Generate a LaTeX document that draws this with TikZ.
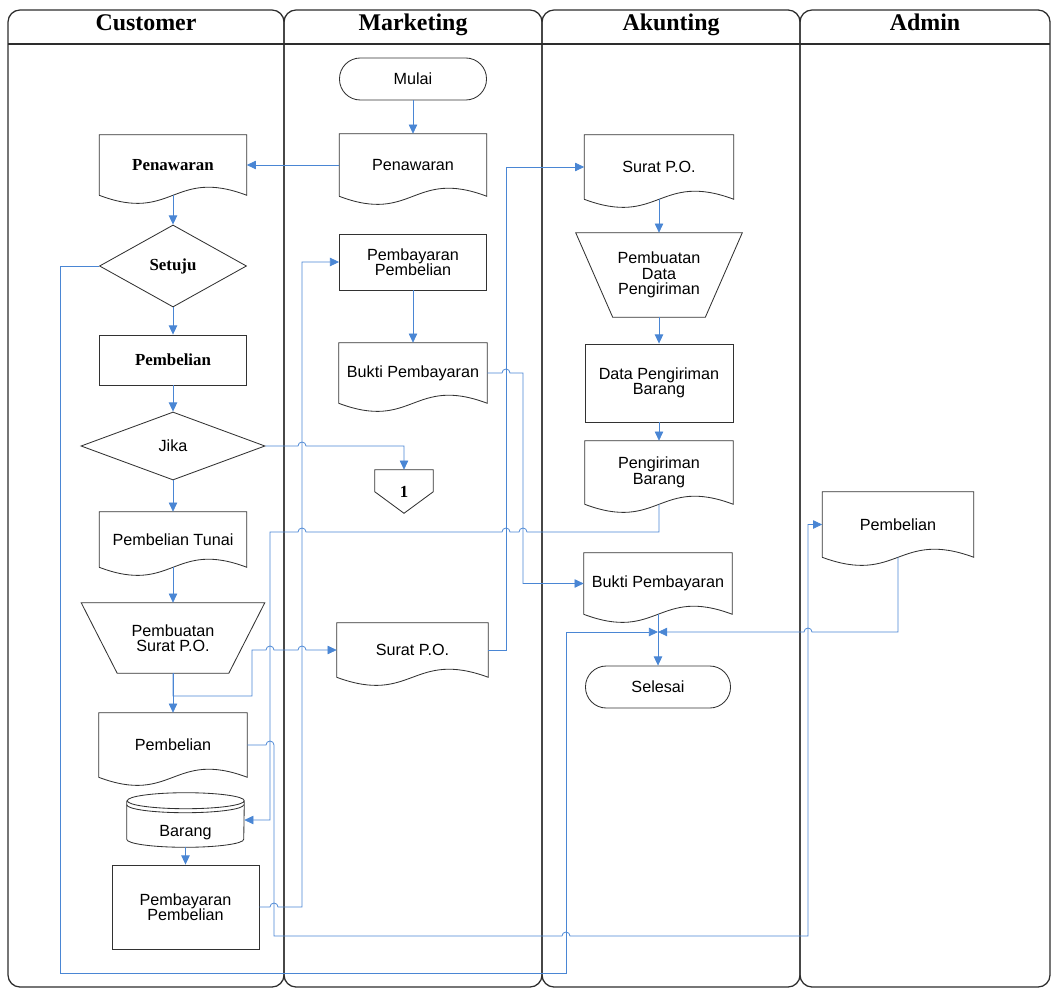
\documentclass[tikz,border=0pt]{standalone}
\usepackage{fontspec}
\setmainfont{Liberation Serif}
\setsansfont{Liberation Sans}
\usetikzlibrary{arrows.meta,shapes.geometric}

\definecolor{flowblue}{RGB}{74,134,212}
\definecolor{boxgray}{RGB}{50,50,50}
\definecolor{lanegray}{RGB}{45,45,45}
\newcommand\txtsans{\sffamily\fontsize{11.5}{11}\selectfont}
\newcommand\txtserif{\rmfamily\bfseries\fontsize{12}{12}\selectfont}
\newcommand\txthead{\rmfamily\bfseries\fontsize{17}{17}\selectfont}

\begin{document}
\begin{tikzpicture}[
      x=0.025cm, y=-0.025cm,
      lane/.style={draw=lanegray, line width=0.9pt, rounded corners=0.3cm},
      lane title/.style={font=\txthead, anchor=base},
      box line/.style={draw=boxgray, line width=0.6pt},
      plain box/.style={minimum width=3.675cm, inner sep=1pt, align=center, font=\txtsans},
      process/.style={plain box, rectangle, box line},
      doc/.style={plain box},
      manual/.style={plain box},
      store/.style={plain box},
      offpage/.style={plain box},
      decision/.style={plain box, diamond, aspect=2, inner sep=0pt, box line},
      terminal/.style={plain box, box line, rounded corners=0.52cm, minimum height=1.05cm},
      flow/.style={draw=flowblue, line width=0.55pt, -{Triangle[length=6.5pt,width=6pt]}},
      hop/.style={insert path={arc[start angle=180, end angle=0, radius=0.1cm]}},
      back hop/.style={insert path={arc[start angle=0, end angle=180, radius=0.1cm]}}]
    \useasboundingbox (0,0) rectangle (1056,991);
    % swimlanes
    \foreach \l/\r in {8/284,284/542,542/800,800/1050}
      \draw[lane] (\l,10) rectangle (\r,987);
    \draw[lane, rounded corners=0pt] (8,44) -- (1050,44);
    \node[lane title] (tCust) at (146,31) {Customer};
    \node[lane title] (tMark) at (413,31) {Marketing};
    \node[lane title] (tAkun) at (671,31) {Akunting};
    \node[lane title] (tAdm) at (925,31) {Admin};

    % customer
    \node[doc, minimum height=1.5cm, font=\txtserif] (cPen) at (173,165) {Penawaran};
    \node[decision, minimum width=3.675cm, minimum height=2.05cm, font=\txtserif] (cSet) at (173,266) {Setuju};
    \node[process, minimum height=1.25cm, font=\txtserif] (cBel) at (173,360) {Pembelian};
    \node[decision, minimum width=4.6cm, minimum height=1.7cm] (cJika) at (173,446) {Jika};
    \node[doc, minimum height=1.375cm] (cTun) at (173,539.5) {Pembelian Tunai};
    \node[manual, minimum width=4.575cm, minimum height=1.75cm] (cSpo) at (173,638) {Pembuatan\\Surat P.O.};
    \node[doc, minimum width=3.7cm, minimum height=1.6cm] (cBel2) at (173,745) {Pembelian};
    \node[store, minimum width=2.925cm, minimum height=1.35cm, text height=2.6em, text depth=0.25em] (cBar) at (185.5,820) {Barang};
    \node[process, minimum height=2.1cm] (cPay) at (185.5,907) {Pembayaran\\Pembelian};

    % marketing
    \node[terminal] (mMul) at (413,79) {Mulai};
    \node[doc, minimum height=1.55cm] (mPen) at (413,165) {Penawaran};
    \node[process, minimum height=1.4cm] (mPay) at (413,262) {Pembayaran\\Pembelian};
    \node[doc, minimum width=3.7cm, minimum height=1.5cm] (mBuk) at (413,373) {Bukti Pembayaran};
    \node[offpage, minimum width=1.45cm, minimum height=1.075cm, font=\txtserif] (mOne) at (404,491.5) {1};
    \node[doc, minimum width=3.775cm, minimum height=1.35cm] (mSpo) at (412.5,650) {Surat P.O.};

    % akunting
    \node[doc, minimum width=3.725cm, minimum height=1.6cm] (aSpo) at (659,167) {Surat P.O.};
    \node[manual, minimum width=4.15cm, minimum height=2.1cm] (aPdp) at (659,275) {Pembuatan\\Data\\Pengiriman};
    \node[process, minimum width=3.7cm, minimum height=1.95cm] (aDpb) at (659,383) {Data Pengiriman\\Barang};
    \node[doc, minimum width=3.7cm, minimum height=1.575cm] (aPbr) at (659,472.5) {Pengiriman\\Barang};
    \node[doc, minimum width=3.7cm, minimum height=1.525cm] (aBuk) at (658,583.5) {Bukti Pembayaran};
    \node[terminal, minimum width=3.625cm] (aSel) at (658,687) {Selesai};
    \coordinate (jn) at (658,632);

    % admin
    \node[doc, minimum width=3.775cm, minimum height=1.625cm] (dBel) at (898,524.5) {Pembelian};

    % outlines
    \foreach \n in {cPen,cTun,cBel2,mPen,mBuk,mSpo,aSpo,aPbr,aBuk,dBel}
      \draw[box line] (\n.south west) -- (\n.north west) -- (\n.north east) -- (\n.south east)
        .. controls ([yshift=0.7cm]\n.south) and ([yshift=-0.7cm]\n.south) .. (\n.south west);
    \foreach \n/\d in {cSpo/0.9cm,aPdp/0.925cm}
      \draw[box line] (\n.north west) -- (\n.north east) -- ([xshift=-\d]\n.south east)
        -- ([xshift=\d]\n.south west) -- cycle;
    \draw[box line] ([yshift=-0.2cm]cBar.north west) -- ([yshift=0.2cm]cBar.south west)
      arc[start angle=180, end angle=360, x radius=1.4625cm, y radius=0.2cm]
      -- ([yshift=-0.2cm]cBar.north east)
      arc[start angle=0, end angle=360, x radius=1.4625cm, y radius=0.2cm];
    \draw[box line] ([yshift=-0.3cm]cBar.north west)
      arc[start angle=180, end angle=360, x radius=1.4625cm, y radius=0.2cm];
    \draw[box line] (mOne.north west) -- (mOne.north east) -- ([yshift=-0.55cm]mOne.north east)
      -- (mOne.south) -- ([yshift=-0.55cm]mOne.north west) -- cycle;

    % connectors
    \draw[flow] (mMul) -- (mPen);
    \draw[flow] (mPen.west) -- (cPen.east);
    \draw[flow] (cPen.south) -- (cSet.north);
    \draw[flow] (cSet.west) -| (60,973) -| (566,632) -- (jn);
    \draw[flow] (cSet.south) -- (cBel.north);
    \draw[flow] (cBel.south) -- (cJika.north);
    \draw[flow] (cJika.east) -- (298,446) [hop] -| (mOne.north);
    \draw[flow] (cJika.south) -- (cTun.north);
    \draw[flow] (cTun.south) -- (cSpo.north);
    \draw[flow] (cSpo.south) -- (cBel2.north);
    \draw[flow] (cSpo.south) |- (252,696) |- (266,650) [hop] -- (298,650) [hop] -- (mSpo.west);
    \draw[flow] (mSpo.east) -- (506,650) |- (aSpo.west);
    \draw[flow] (aSpo.south) -- (aPdp.north);
    \draw[flow] (aPdp.south) -- (aDpb.north);
    \draw[flow] (aDpb.south) -- (aPbr.north);
    \draw[flow] (aPbr.south) |- (527,532) [back hop] -- (510,532) [back hop]
      -- (306,532) [back hop] -- (270,532) |- (cBar.east);
    \draw[flow] (cBel2.east) -- (266,745) [hop] |- (562,936) [hop] -- (808,936) |- (dBel.west);
    \draw[flow] (cBar.south) -- (cPay.north);
    \draw[flow] (cPay.east) -- (270,907) [hop] -- (302,907) |- (mPay.west);
    \draw[flow] (mPay.south) -- (mBuk.north);
    \draw[flow] (mBuk.east) -- (502,373) [hop] -- (523,373) |- (aBuk.west);
    \draw[flow] (aBuk.south) -- (aSel.north);
    \draw[flow] (dBel.south) |- (812,632) [back hop] -- (jn);
    \end{tikzpicture}
\end{document}
